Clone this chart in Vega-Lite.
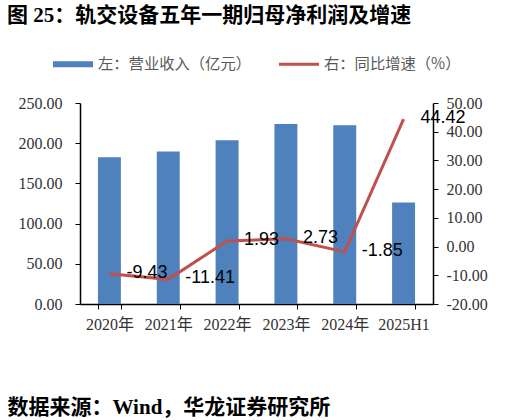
{
  "$schema": "https://vega.github.io/schema/vega-lite/v6.json",
  "width": 353,
  "height": 201,
  "autosize": "none",
  "padding": {"left": 80, "top": 103, "right": 88, "bottom": 116},
  "background": "white",
  "title": {
    "text": "图 25：轨交设备五年一期归母净利润及增速",
    "anchor": "start",
    "frame": "group",
    "dx": -73,
    "offset": 18,
    "font": "Liberation Serif, Noto Sans CJK SC",
    "fontSize": 21,
    "fontWeight": "bold",
    "color": "#000000"
  },
  "data": {
    "values": [
      {"year": "2020年", "revenue": 182.5, "growth": -9.43},
      {"year": "2021年", "revenue": 189.6, "growth": -11.41},
      {"year": "2022年", "revenue": 203.7, "growth": 1.93},
      {"year": "2023年", "revenue": 224.0, "growth": 2.73},
      {"year": "2024年", "revenue": 222.4, "growth": -1.85},
      {"year": "2025H1", "revenue": 126.3, "growth": 44.42}
    ]
  },
  "encoding": {
    "x": {
      "field": "year",
      "type": "ordinal",
      "sort": null,
      "scale": {"paddingInner": 0.61, "paddingOuter": 0.305},
      "axis": {
        "title": "数据来源：Wind，华龙证券研究所",
        "titleFont": "Liberation Serif, Noto Sans CJK SC",
        "titleFontSize": 21,
        "titleFontWeight": "bold",
        "titleColor": "#000000",
        "titleAnchor": "start",
        "titleAlign": "left",
        "titleBaseline": "middle",
        "titleX": -73,
        "titleY": 103,
        "labelAngle": 0,
        "labelFont": "Liberation Serif, Noto Sans CJK SC",
        "labelFontSize": 16,
        "labelColor": "#333333",
        "labelPadding": 7,
        "tickBand": "extent",
        "tickSize": 5,
        "tickColor": "#000000",
        "domainColor": "#000000",
        "domainWidth": 1.5,
        "grid": false
      }
    }
  },
  "layer": [
    {
      "mark": {"type": "bar"},
      "encoding": {
        "y": {
          "field": "revenue",
          "type": "quantitative",
          "scale": {"domain": [0, 250], "nice": false},
          "axis": {
            "title": null,
            "values": [0, 50, 100, 150, 200, 250],
            "labelExpr": "replace(format(datum.value, '.2f'), '\u2212', '-')",
            "labelFont": "Liberation Serif, Noto Sans CJK SC",
            "labelFontSize": 16,
            "labelColor": "#333333",
            "labelPadding": 13,
            "labelOverlap": false,
            "tickSize": 5,
            "tickColor": "#000000",
            "domainColor": "#000000",
            "domainWidth": 1.5,
            "grid": false
          }
        },
        "color": {
          "datum": "左：营业收入（亿元）",
          "type": "nominal",
          "scale": {
            "domain": ["左：营业收入（亿元）", "右：同比增速（%）"],
            "range": ["#4F81BD", "#C0504D"]
          },
          "legend": {
            "title": null,
            "orient": "none",
            "direction": "horizontal",
            "legendX": -27,
            "legendY": -59,
            "labelFont": "Noto Sans CJK SC",
            "labelFontSize": 15.3,
            "labelColor": "#595959",
            "labelOffset": 5,
            "labelLimit": 400,
            "columnPadding": 28,
            "symbolSize": 1600,
            "symbolStrokeWidth": 0,
            "encode": {
              "symbols": {
                "update": {
                  "shape": {"signal": "datum.value === '左：营业收入（亿元）' ? 'M-1,-0.15L1,-0.15L1,0.15L-1,0.15Z' : 'M-1,-0.075L1,-0.075L1,0.075L-1,0.075Z'"},
                  "fill": {"signal": "datum.value === '左：营业收入（亿元）' ? '#4F81BD' : '#C0504D'"},
                  "stroke": {"value": "transparent"},
                  "opacity": {"value": 1}
                }
              }
            }
          }
        }
      }
    },
    {
      "encoding": {
        "y": {
          "field": "growth",
          "type": "quantitative",
          "scale": {"domain": [-20, 50], "nice": false},
          "axis": {
            "orient": "right",
            "title": null,
            "values": [-20, -10, 0, 10, 20, 30, 40, 50],
            "labelExpr": "replace(format(datum.value, '.2f'), '\u2212', '-')",
            "labelFont": "Liberation Serif, Noto Sans CJK SC",
            "labelFontSize": 16,
            "labelColor": "#333333",
            "labelPadding": 8,
            "labelOverlap": false,
            "tickSize": 5,
            "tickColor": "#000000",
            "domainColor": "#000000",
            "domainWidth": 1.5,
            "grid": false
          }
        }
      },
      "layer": [
        {
          "mark": {"type": "line", "strokeWidth": 3},
          "encoding": {
            "color": {"datum": "右：同比增速（%）", "type": "nominal"}
          }
        },
        {
          "mark": {
            "type": "text",
            "align": "left",
            "baseline": "middle",
            "dx": 17,
            "dy": -1,
            "font": "Liberation Sans",
            "fontSize": 18,
            "color": "#000000",
            "text": {"expr": "replace(format(datum.growth, '.2f'), '\u2212', '-')"}
          }
        }
      ]
    }
  ],
  "resolve": {"scale": {"y": "independent"}},
  "config": {
    "view": {"stroke": null}
  }
}
